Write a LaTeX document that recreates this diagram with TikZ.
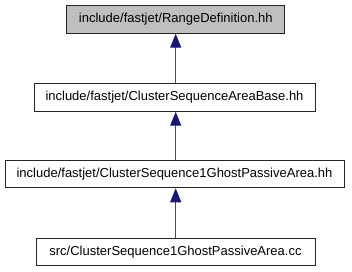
\documentclass[tikz,border=0pt]{standalone}
\usepackage{fontspec}
\setmainfont{Liberation Sans}
\usetikzlibrary{arrows.meta}
\begin{document}
\begin{tikzpicture}[x=1pt,y=-1pt,
  box/.style={draw=black!85, line width=1pt, minimum height=27.5pt, inner sep=0pt, font=\fontsize{13}{15}\selectfont},
  dep/.style={draw=midnightblue!80, line width=1.2pt, -{Triangle[length=14pt,width=11pt,color=midnightblue,fill=midnightblue]}}]
\definecolor{midnightblue}{RGB}{25,25,112}
\useasboundingbox (0,0) rectangle (352,272);
\node[box, fill=black!25, minimum width=218pt] (a) at (175.8,19.5) {include/fastjet/RangeDefinition.hh};
\node[box, fill=white, minimum width=281pt] (b) at (174.5,97.5) {include/fastjet/ClusterSequenceAreaBase.hh};
\node[box, fill=white, minimum width=339pt] (c) at (174.5,174) {include/fastjet/ClusterSequence1GhostPassiveArea.hh};
\node[box, fill=white, minimum width=279pt] (d) at (175.5,252) {src/ClusterSequence1GhostPassiveArea.cc};
\draw[dep] (b.north -| 175.7,0) -- (a.south -| 175.7,0);
\draw[dep] (c.north -| 175.7,0) -- (b.south -| 175.7,0);
\draw[dep] (d.north -| 175.7,0) -- (c.south -| 175.7,0);
\end{tikzpicture}
\end{document}
